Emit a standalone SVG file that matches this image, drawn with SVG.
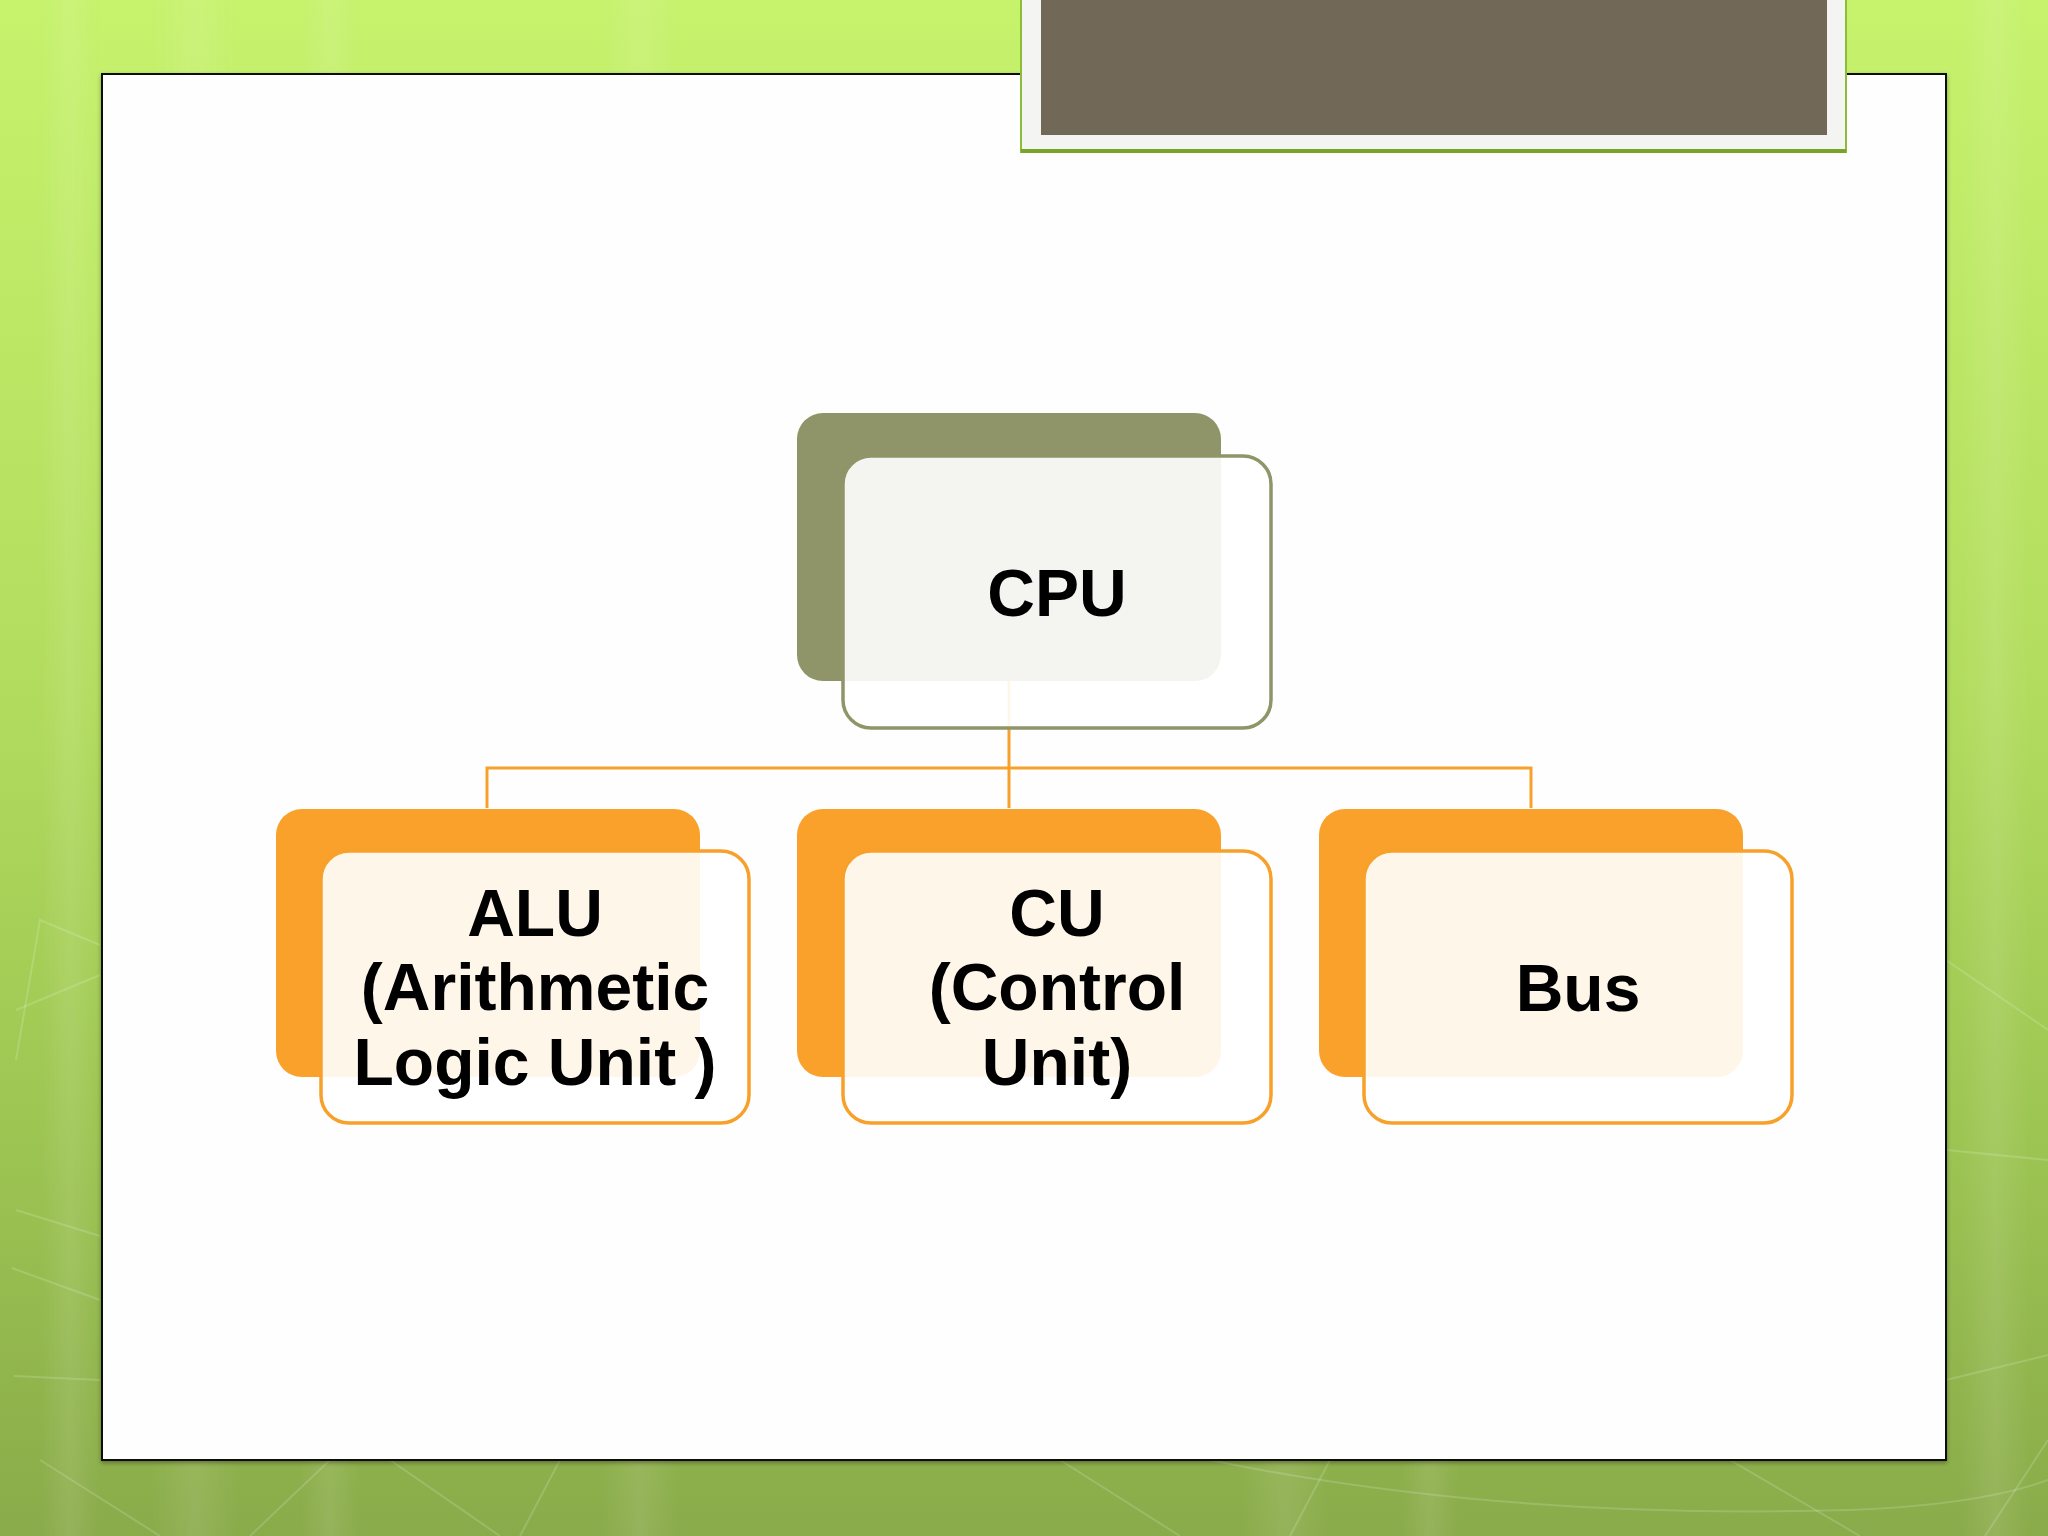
<svg xmlns="http://www.w3.org/2000/svg" width="2048" height="1536" viewBox="0 0 2048 1536">
  <defs>
    <linearGradient id="bg" x1="0" y1="0" x2="0" y2="1">
      <stop offset="0" stop-color="#c6f26c"/>
      <stop offset="0.45" stop-color="#b2dc5e"/>
      <stop offset="0.75" stop-color="#9cc452"/>
      <stop offset="1" stop-color="#8aab4a"/>
    </linearGradient>
    <linearGradient id="side" x1="0" y1="0" x2="1" y2="0">
      <stop offset="0" stop-color="#ffffff" stop-opacity="0"/>
      <stop offset="0.5" stop-color="#ffffff" stop-opacity="0.12"/>
      <stop offset="1" stop-color="#ffffff" stop-opacity="0"/>
    </linearGradient>
    <filter id="shadow" x="-5%" y="-5%" width="110%" height="110%">
      <feDropShadow dx="0" dy="2" stdDeviation="2" flood-color="#000" flood-opacity="0.35"/>
    </filter>
  </defs>
  <style>
    .back-green { fill: #8f9568; }
    .back-orange { fill: #f9a12a; }
    .front-green { fill: #ffffff; fill-opacity: 0.9; stroke: #8f9568; stroke-width: 3.5; }
    .front-orange { fill: #ffffff; fill-opacity: 0.9; stroke: #f7a12b; stroke-width: 3.5; }
    .label { font-family: "Liberation Sans", Arial, sans-serif; font-weight: bold; font-size: 66px; fill: #000; text-anchor: middle; }
    .conn { fill: none; stroke: #f7a12b; stroke-width: 3; }
    .deco { fill: none; stroke: #ffffff; stroke-opacity: 0.16; stroke-width: 2; }
  </style>

  <!-- background -->
  <rect x="0" y="0" width="2048" height="1536" fill="url(#bg)"/>
  <g opacity="0.8">
    <rect x="40" y="0" width="60" height="1536" fill="url(#side)"/>
    <rect x="150" y="0" width="90" height="1536" fill="url(#side)"/>
    <rect x="300" y="0" width="60" height="1536" fill="url(#side)"/>
    <rect x="600" y="0" width="80" height="1536" fill="url(#side)"/>
    <rect x="1240" y="0" width="90" height="1536" fill="url(#side)"/>
    <rect x="1400" y="0" width="60" height="1536" fill="url(#side)"/>
    <rect x="1960" y="0" width="70" height="1536" fill="url(#side)"/>
  </g>
  <g class="deco">
    <path d="M16 1010 L100 975"/>
    <path d="M16 1060 L40 920 L100 945"/>
    <path d="M16 1210 L100 1236"/>
    <path d="M12 1268 L100 1300"/>
    <path d="M14 1376 L100 1380"/>
    <path d="M1946 960 L2048 1030"/>
    <path d="M1946 1150 L2048 1160"/>
    <path d="M1946 1380 L2048 1355"/>
    <path d="M40 1460 L160 1536"/>
    <path d="M330 1460 L250 1536"/>
    <path d="M390 1460 L500 1536"/>
    <path d="M560 1460 L520 1536"/>
    <path d="M1060 1460 L1180 1536"/>
    <path d="M1330 1460 L1290 1536"/>
    <path d="M1210 1460 Q1500 1520 1850 1510 Q1980 1505 2048 1480"/>
    <path d="M1730 1460 L1860 1536"/>
    <path d="M2048 1440 L1985 1536"/>
  </g>

  <!-- slide panel -->
  <rect x="102" y="74" width="1844" height="1386" fill="#fefefe" stroke="#111" stroke-width="2" filter="url(#shadow)"/>

  <!-- header box -->
  <g id="header">
    <rect x="1021" y="-4" width="825" height="156" fill="#f4f5f2" stroke="#8dbb3a" stroke-width="2"/>
    <rect x="1021" y="149" width="825" height="4" fill="#78a428"/>
    <rect x="1041" y="0" width="786" height="135" fill="#716857"/>
  </g>

  <!-- connectors -->
  <g id="connectors">
    <path class="conn" d="M1009 681 V768"/>
    <path class="conn" d="M487 808 V768 H1531 V808"/>
    <path class="conn" d="M1009 768 V808"/>
  </g>

  <!-- CPU -->
  <g id="node-cpu">
    <rect class="back-green" x="797" y="413" width="424" height="268" rx="26"/>
    <rect class="front-green" x="843" y="456" width="428" height="272" rx="28"/>
    <text class="label" x="1057" y="616">CPU</text>
  </g>

  <!-- ALU -->
  <g id="node-alu">
    <rect class="back-orange" x="276" y="809" width="424" height="268" rx="26"/>
    <rect class="front-orange" x="321" y="851" width="428" height="272" rx="28"/>
    <text class="label" x="535" y="936">ALU</text>
    <text class="label" x="535" y="1010">(Arithmetic</text>
    <text class="label" x="535" y="1085">Logic Unit )</text>
  </g>

  <!-- CU -->
  <g id="node-cu">
    <rect class="back-orange" x="797" y="809" width="424" height="268" rx="26"/>
    <rect class="front-orange" x="843" y="851" width="428" height="272" rx="28"/>
    <text class="label" x="1057" y="936">CU</text>
    <text class="label" x="1057" y="1010">(Control</text>
    <text class="label" x="1057" y="1085">Unit)</text>
  </g>

  <!-- Bus -->
  <g id="node-bus">
    <rect class="back-orange" x="1319" y="809" width="424" height="268" rx="26"/>
    <rect class="front-orange" x="1364" y="851" width="428" height="272" rx="28"/>
    <text class="label" x="1578" y="1011">Bus</text>
  </g>
</svg>
